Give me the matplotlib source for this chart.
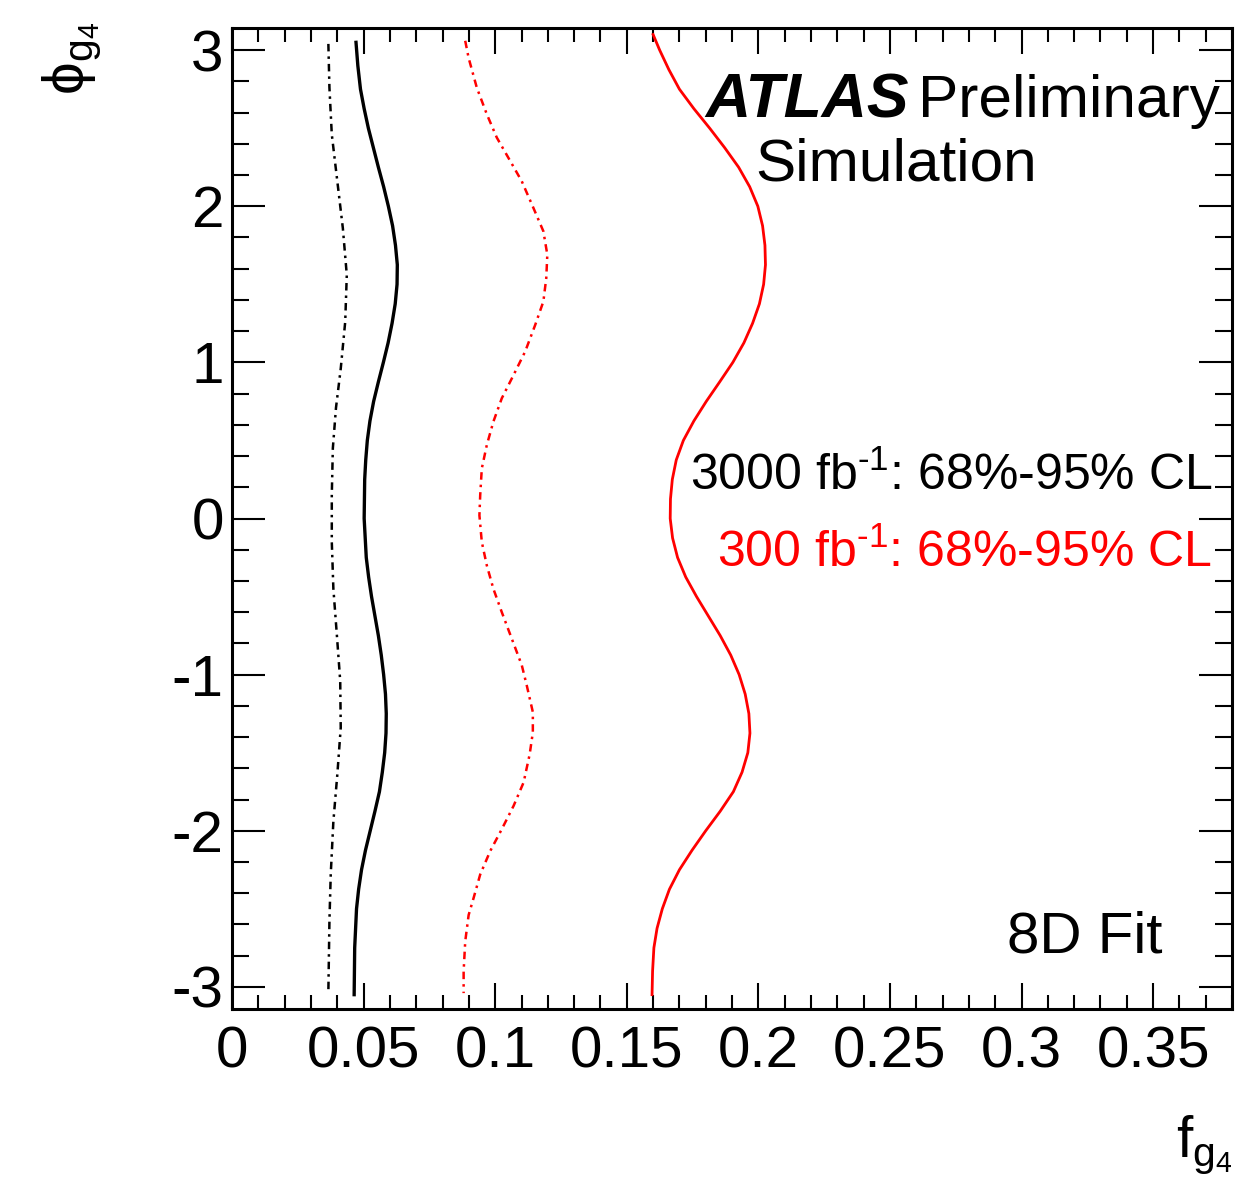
import numpy as np
import matplotlib.pyplot as plt
from matplotlib.ticker import MultipleLocator, FuncFormatter

plt.rcParams['font.family'] = ['Liberation Sans', 'DejaVu Sans']
plt.rcParams['mathtext.fontset'] = 'custom'
plt.rcParams['mathtext.rm'] = 'Liberation Sans'
plt.rcParams['axes.unicode_minus'] = False

# 300 fb-1, 95% CL (red solid)
phi_r95 = [3.10, 3.0, 2.875, 2.75, 2.625, 2.5, 2.375, 2.25, 2.125, 2.0, 1.875, 1.75, 1.625, 1.5,
           1.375, 1.25, 1.125, 1.0, 0.875, 0.75, 0.625, 0.5, 0.375, 0.25, 0.125, 0.0,
           -0.125, -0.25, -0.375, -0.5, -0.625, -0.75, -0.875, -1.0, -1.125, -1.25, -1.375,
           -1.5, -1.625, -1.75, -1.875, -2.0, -2.125, -2.25, -2.375, -2.5, -2.625, -2.75, -2.9, -3.05]
f_r95 = [0.1600, 0.1625, 0.1660, 0.1700, 0.1755, 0.1815, 0.1872, 0.1925, 0.1967, 0.1998, 0.2016,
         0.2025, 0.2027, 0.2020, 0.2004, 0.1978, 0.1945, 0.1903, 0.1853, 0.1802, 0.1755, 0.1715,
         0.1688, 0.1673, 0.1666, 0.1665, 0.1674, 0.1693, 0.1724, 0.1765, 0.1810, 0.1855, 0.1895,
         0.1927, 0.1950, 0.1964, 0.1968, 0.1960, 0.1938, 0.1905, 0.1855, 0.1800, 0.1748, 0.1700,
         0.1662, 0.1635, 0.1615, 0.1603, 0.1598, 0.1596]

# 300 fb-1, 68% CL (red dash-dot)
phi_r68 = [3.06, 2.95, 2.76, 2.59, 2.44, 2.29, 2.16, 1.99, 1.84, 1.69, 1.54, 1.39, 1.24, 1.07, 0.92, 0.77,
           0.62, 0.47, 0.32, 0.15, 0.02, -0.15, -0.30, -0.45, -0.60, -0.77, -0.94, -1.07, -1.24, -1.37,
           -1.51, -1.69, -1.84, -1.99, -2.13, -2.28, -2.43, -2.54, -2.71, -2.90, -3.04]
f_r68 = [0.0886, 0.0899, 0.0930, 0.0968, 0.1006, 0.1057, 0.1101, 0.1145, 0.1183, 0.1198, 0.1194, 0.1183, 0.1152,
         0.1114, 0.1070, 0.1025, 0.0993, 0.0968, 0.0949, 0.0943, 0.0940, 0.0949, 0.0968, 0.0993, 0.1025, 0.1063,
         0.1101, 0.1120, 0.1143, 0.1143, 0.1131, 0.1108, 0.1070, 0.1025, 0.0981, 0.0943, 0.0918, 0.0899, 0.0886,
         0.0880, 0.0880]

# 3000 fb-1, 95% CL (black solid)
phi_b95 = [3.05, 2.9, 2.75, 2.625, 2.5, 2.375, 2.25, 2.125, 2.0, 1.875, 1.75, 1.625, 1.5, 1.375,
           1.25, 1.125, 1.0, 0.875, 0.75, 0.625, 0.5, 0.375, 0.25, 0.0, -0.25, -0.375, -0.5,
           -0.625, -0.75, -0.875, -1.0, -1.125, -1.25, -1.375, -1.5, -1.625, -1.75, -1.875,
           -2.0, -2.125, -2.25, -2.375, -2.5, -2.75, -3.05]
f_b95 = [0.0471, 0.0478, 0.0488, 0.0502, 0.0518, 0.0537, 0.0556, 0.0576, 0.0594, 0.0610, 0.0621,
         0.0628, 0.0627, 0.0620, 0.0608, 0.0593, 0.0575, 0.0556, 0.0538, 0.0524, 0.0514, 0.0508,
         0.0504, 0.0502, 0.0510, 0.0519, 0.0530, 0.0543, 0.0556, 0.0567, 0.0576, 0.0583, 0.0586,
         0.0585, 0.0580, 0.0571, 0.0560, 0.0543, 0.0525, 0.0507, 0.0492, 0.0481, 0.0473, 0.0466,
         0.0464]

# 3000 fb-1, 68% CL (black dash-dot)
phi_b68 = [3.04, 2.76, 2.46, 2.16, 1.86, 1.56, 1.26, 0.96, 0.71, 0.45, 0.15, -0.15, -0.45, -0.74,
           -1.04, -1.34, -1.64, -1.94, -2.28, -2.58, -3.03]
f_b68 = [0.0366, 0.0370, 0.0379, 0.0400, 0.0421, 0.0436, 0.0430, 0.0413, 0.0395, 0.0383, 0.0379, 0.0379, 0.0385,
         0.0398, 0.0411, 0.0413, 0.0400, 0.0385, 0.0375, 0.0370, 0.0366]

fig = plt.figure(figsize=(12.35, 11.88), dpi=100)
ax = fig.add_axes([0.1879, 0.1507, 0.8097, 0.8257])

ax.plot(f_b68, phi_b68, color='black', lw=1.8, dashes=(3, 2, 1, 2))
ax.plot(f_b95, phi_b95, color='black', lw=2.4)
ax.plot(f_r68, phi_r68, color='red', lw=1.8, dashes=(3, 2, 1, 2))
ax.plot(f_r95, phi_r95, color='red', lw=2.0)

ax.set_xlim(0, 0.38)
ax.set_ylim(-np.pi, np.pi)

ax.xaxis.set_major_locator(MultipleLocator(0.05))
ax.xaxis.set_minor_locator(MultipleLocator(0.01))
ax.yaxis.set_major_locator(MultipleLocator(1))
ax.yaxis.set_minor_locator(MultipleLocator(0.2))
ax.xaxis.set_major_formatter(FuncFormatter(lambda v, p: '%g' % round(v, 3)))
ax.yaxis.set_major_formatter(FuncFormatter(lambda v, p: '%g' % round(v, 3)))

ax.tick_params(which='both', direction='in', top=True, right=True, width=1.5, labelsize=42)
ax.tick_params(axis='x', which='major', length=19, pad=12)
ax.tick_params(axis='x', which='minor', length=10)
ax.tick_params(axis='y', which='major', length=24, pad=6)
ax.tick_params(axis='y', which='minor', length=12)
for s in ax.spines.values():
    s.set_linewidth(2.2)

ax.text(0.473, 0.909, 'ATLAS', transform=ax.transAxes, fontsize=45,
        fontweight='bold', fontstyle='italic', va='baseline', ha='left')
ax.text(0.686, 0.909, 'Preliminary', transform=ax.transAxes, fontsize=43.5,
        va='baseline', ha='left')
ax.text(0.523, 0.845, 'Simulation', transform=ax.transAxes, fontsize=43.5,
        va='baseline', ha='left')

ax.text(0.98, 0.529, r'3000 fb$^{\text{-1}}$: 68%-95% CL', transform=ax.transAxes,
        fontsize=36, color='black', va='baseline', ha='right')
ax.text(0.98, 0.4506, r'300 fb$^{\text{-1}}$: 68%-95% CL', transform=ax.transAxes,
        fontsize=36, color='red', va='baseline', ha='right')
ax.text(0.93, 0.058, '8D Fit', transform=ax.transAxes, fontsize=42,
        va='baseline', ha='right')

fig.text(0.998, 1 - 1157 / 1188, r'$\mathregular{f_{g_{4}}}$', fontsize=42,
         ha='right', va='baseline')
fig.text(0.058, 1 - 58 / 1188, r'$\mathregular{\phi_{g_{4}}}$', fontsize=42,
         rotation=90, ha='center', va='center')

fig.savefig('out.png', dpi=100)
